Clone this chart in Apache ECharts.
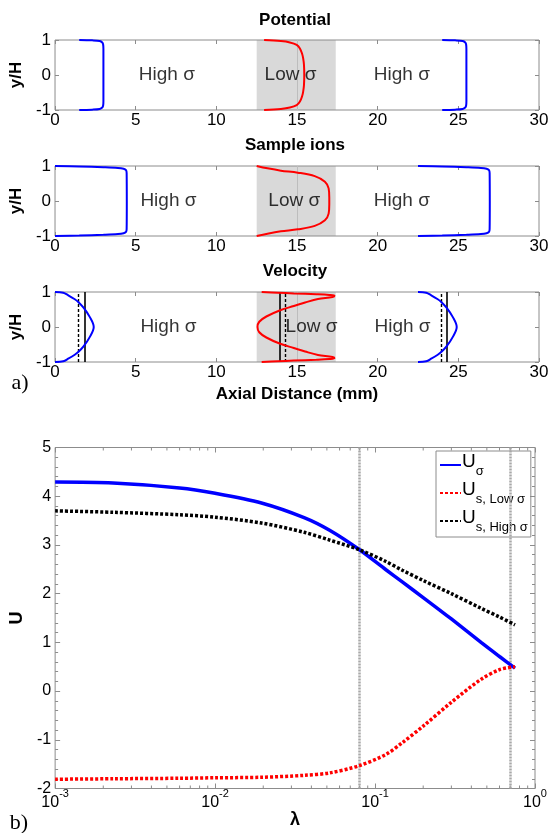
<!DOCTYPE html>
<html>
<head>
<meta charset="utf-8">
<script src="https://cdn.jsdelivr.net/npm/echarts@6/dist/echarts.min.js"></script>
<style>
  html, body { margin: 0; padding: 0; background: #fff; }
  #main { width: 553px; height: 833px; }
</style>
</head>
<body>
<div id="main"></div>
<script>
// ---------------- Panel a): profiles across the channel ----------------
// axial distance (mm) axis and transverse coordinate y/H
const axialRange = [0, 30];
const axialStep = 5;
const yhRange = [-1, 1];
const yhStep = 1;

// low-conductivity plug (shaded)
const lowSigmaBand = [12.5, 17.4];

// Potential profiles [x (mm), y/H]
const potentialHighL = [[1.5,1],[2.3,0.99],[2.77,0.97],[2.93,0.93],[2.98,0.88],[3.0,0.75],[3.0,0],[3.0,-0.75],[2.98,-0.88],[2.93,-0.93],[2.77,-0.97],[2.3,-0.99],[1.5,-1]];
const potentialLow   = [[12.96,1],[14.0,0.97],[14.56,0.93],[14.98,0.86],[15.18,0.76],[15.32,0.6],[15.38,0.48],[15.43,0.3],[15.45,0],[15.43,-0.3],[15.38,-0.48],[15.32,-0.6],[15.18,-0.76],[14.98,-0.86],[14.56,-0.93],[14.0,-0.97],[12.96,-1]];
const potentialHighR = [[24.0,1],[24.8,0.99],[25.27,0.97],[25.43,0.93],[25.48,0.88],[25.5,0.75],[25.5,0],[25.5,-0.75],[25.48,-0.88],[25.43,-0.93],[25.27,-0.97],[24.8,-0.99],[24.0,-1]];

// Sample-ion concentration profiles
const ionsHighL = [[0,1],[1.5,0.985],[3.0,0.965],[3.9,0.945],[4.25,0.92],[4.4,0.88],[4.44,0.8],[4.45,0],[4.44,-0.8],[4.4,-0.88],[4.25,-0.92],[3.9,-0.945],[3.0,-0.965],[1.5,-0.985],[0,-1]];
const ionsLow   = [[12.5,1],[13.17,0.933],[14.0,0.867],[15.05,0.81],[16.1,0.71],[16.73,0.55],[16.96,0.36],[17.0,0.1],[17.0,-0.1],[16.96,-0.36],[16.73,-0.55],[16.1,-0.71],[15.05,-0.81],[14.0,-0.867],[13.17,-0.933],[12.5,-1]];
const ionsHighR = [[22.5,1],[24.0,0.985],[25.5,0.965],[26.4,0.945],[26.75,0.92],[26.9,0.88],[26.94,0.8],[26.95,0],[26.94,-0.8],[26.9,-0.88],[26.75,-0.92],[26.4,-0.945],[25.5,-0.965],[24.0,-0.985],[22.5,-1]];

// Velocity profiles
const velocityHighL = [[0,1],[0.51,0.98],[0.82,0.906],[1.2,0.8],[1.44,0.717],[1.78,0.547],[2.15,0.29],[2.4,0],[2.15,-0.29],[1.78,-0.547],[1.44,-0.717],[1.2,-0.8],[0.82,-0.906],[0.51,-0.98],[0,-1]];
const velocityLow   = [[12.81,1],[13.8,0.98],[14.8,0.96],[16.2,0.935],[17.0,0.915],[17.32,0.895],[17.2,0.86],[16.3,0.8],[15.5,0.7],[14.8,0.6],[13.96,0.48],[13.1,0.3],[12.66,0.15],[12.55,0],[12.66,-0.15],[13.1,-0.3],[13.96,-0.48],[14.8,-0.6],[15.5,-0.7],[16.3,-0.8],[17.2,-0.86],[17.32,-0.895],[17.0,-0.915],[16.2,-0.935],[14.8,-0.96],[13.8,-0.98],[12.81,-1]];
const velocityHighR = [[22.5,1],[23.01,0.98],[23.32,0.906],[23.7,0.8],[23.94,0.717],[24.28,0.547],[24.65,0.29],[24.9,0],[24.65,-0.29],[24.28,-0.547],[23.94,-0.717],[23.7,-0.8],[23.32,-0.906],[23.01,-0.98],[22.5,-1]];

// mean-velocity markers (mm): solid and dashed
const velocityMeanSolid  = [1.84, 13.96, 24.29];
const velocityMeanDashed = [1.45, 14.29, 23.92];

// ---------------- Panel b): U versus lambda ----------------
const lambda = [0.001, 0.0023, 0.006, 0.01, 0.0195, 0.036, 0.052, 0.08, 0.117, 0.148, 0.2, 0.3, 0.46, 0.6, 0.75];
const uSigma = [4.29, 4.27, 4.17, 4.06, 3.86, 3.56, 3.30, 2.90, 2.49, 2.24, 1.92, 1.48, 1.00, 0.71, 0.47];
const usLow  = [-1.81, -1.80, -1.79, -1.78, -1.77, -1.73, -1.68, -1.53, -1.30, -1.06, -0.72, -0.23, 0.24, 0.44, 0.50];
const usHigh = [3.70, 3.67, 3.62, 3.57, 3.45, 3.26, 3.10, 2.90, 2.66, 2.48, 2.27, 2.00, 1.70, 1.52, 1.36];
const lambdaMarks = [0.08, 0.7];
const lambdaRange = [0.001, 1];
const uRange = [-2, 5];
const uStep = 1;
const lambdaMinorTicks = [0.002,0.003,0.004,0.005,0.006,0.007,0.008,0.009,
                          0.02,0.03,0.04,0.05,0.06,0.07,0.08,0.09,
                          0.2,0.3,0.4,0.5,0.6,0.7,0.8,0.9];

// ---------------- styling ----------------
const FONT = '"Liberation Sans", Arial, Helvetica, sans-serif';
const SERIF = '"Liberation Serif", "Times New Roman", serif';
const FRAME = '#8c8c8c';
const BLUE = '#0000ff';
const RED = '#ff0000';

const panelTops = [40, 166, 292];
const panelLeft = 51, panelWidth = 488, panelHeight = 70;

const grids = panelTops.map(t => ({
  left: panelLeft, top: t, width: panelWidth, height: panelHeight,
  show: true, borderColor: FRAME, borderWidth: 1, backgroundColor: 'transparent', z: 4
}));
grids.push({ left: 47, top: 447.5, width: 488, height: 341,
  show: true, borderColor: FRAME, borderWidth: 1, backgroundColor: 'transparent', z: 4 });

const hiddenLine = { show: false, onZero: false };
const xAxes = [], yAxes = [];
panelTops.forEach((t, i) => {
  const tick = { show: true, inside: true, length: 4, lineStyle: { color: FRAME } };
  xAxes.push({
    gridIndex: i, type: 'value', min: axialRange[0], max: axialRange[1], interval: axialStep,
    position: 'bottom', z: 4,
    axisLine: hiddenLine, axisTick: tick, splitLine: { show: false },
    axisLabel: { fontSize: 17, color: '#000', fontFamily: FONT, margin: 2 },
    name: i === 2 ? 'Axial Distance (mm)' : '',
    nameLocation: 'middle', nameGap: 24,
    nameTextStyle: { fontSize: 17, fontWeight: 'bold', color: '#000', fontFamily: FONT }
  });
  xAxes.push({
    gridIndex: i, type: 'value', min: axialRange[0], max: axialRange[1], interval: axialStep,
    position: 'top', z: 4,
    axisLine: hiddenLine, axisTick: tick, splitLine: { show: false }, axisLabel: { show: false }
  });
  yAxes.push({
    gridIndex: i, type: 'value', min: yhRange[0], max: yhRange[1], interval: yhStep,
    position: 'left', z: 4,
    axisLine: hiddenLine, axisTick: tick, splitLine: { show: false },
    axisLabel: { fontSize: 17, color: '#000', fontFamily: FONT, margin: 4 },
    name: 'y/H', nameLocation: 'middle', nameGap: 20, nameRotate: 90,
    nameTextStyle: { fontSize: 17, fontWeight: 'bold', color: '#000', fontFamily: FONT }
  });
  yAxes.push({
    gridIndex: i, type: 'value', min: yhRange[0], max: yhRange[1], interval: yhStep,
    position: 'right', z: 4,
    axisLine: hiddenLine, axisTick: tick, splitLine: { show: false }, axisLabel: { show: false }
  });
});

// panel b) axes (indices 6 and 7)
const bTick = { show: true, inside: true, length: 5, lineStyle: { color: FRAME } };
xAxes.push({
  gridIndex: 3, type: 'log', logBase: 10, min: lambdaRange[0], max: lambdaRange[1],
  position: 'bottom', z: 4,
  axisLine: hiddenLine, axisTick: bTick, splitLine: { show: false }, minorTick: { show: false },
  axisLabel: {
    margin: 0, color: '#000',
    formatter: v => '{b|10}{s|' + Math.round(Math.log10(v)) + '}',
    rich: {
      b: { fontSize: 16, fontFamily: FONT, color: '#000', lineHeight: 22, verticalAlign: 'bottom' },
      s: { fontSize: 11, fontFamily: FONT, color: '#000', verticalAlign: 'top' }
    }
  },
  name: 'λ', nameLocation: 'middle', nameGap: 22,
  nameTextStyle: { fontSize: 18, fontWeight: 'bold', color: '#000', fontFamily: FONT }
});
xAxes.push({
  gridIndex: 3, type: 'log', logBase: 10, min: lambdaRange[0], max: lambdaRange[1],
  position: 'top', z: 4,
  axisLine: hiddenLine, axisTick: bTick, splitLine: { show: false }, axisLabel: { show: false }
});
const bMinor = { show: true, splitNumber: 5, length: 3, lineStyle: { color: FRAME } };
yAxes.push({
  gridIndex: 3, type: 'value', min: uRange[0], max: uRange[1], interval: uStep,
  position: 'left', z: 4,
  axisLine: hiddenLine, axisTick: bTick, minorTick: bMinor, splitLine: { show: false },
  axisLabel: { fontSize: 16, color: '#000', fontFamily: FONT, margin: 4 },
  name: 'U', nameLocation: 'middle', nameGap: 24, nameRotate: 90,
  nameTextStyle: { fontSize: 18, fontWeight: 'bold', color: '#000', fontFamily: FONT }
});
yAxes.push({
  gridIndex: 3, type: 'value', min: uRange[0], max: uRange[1], interval: uStep,
  position: 'right', z: 4,
  axisLine: hiddenLine, axisTick: bTick, minorTick: bMinor, splitLine: { show: false },
  axisLabel: { show: false }
});

// ---------------- series ----------------
const series = [];

function profile(panel, data, color) {
  series.push({
    type: 'line', xAxisIndex: 2 * panel, yAxisIndex: 2 * panel, data: data,
    symbol: 'none', smooth: 0.35, silent: true, z: 5,
    lineStyle: { color: color, width: 2 }
  });
}

function band(panel) {
  series.push({
    type: 'line', xAxisIndex: 2 * panel, yAxisIndex: 2 * panel, data: [],
    symbol: 'none', silent: true, z: 1,
    markArea: { silent: true, itemStyle: { color: '#d9d9d9' },
      data: [[{ xAxis: lowSigmaBand[0] }, { xAxis: lowSigmaBand[1] }]] },
    markLine: { silent: true, symbol: 'none', label: { show: false },
      lineStyle: { color: '#bdbdbd', width: 1, type: 'solid' },
      data: [{ xAxis: 15 }] }
  });
}

function regionLabels(panel, items) {
  series.push({
    type: 'scatter', xAxisIndex: 2 * panel, yAxisIndex: 2 * panel,
    symbolSize: 0, silent: true, z: 6,
    itemStyle: { color: '#000' },
    data: items.map(d => ({ name: d[0], value: [d[1], 0] })),
    label: { show: true, position: 'inside', formatter: '{b}',
      fontSize: 19, color: '#000', textBorderWidth: 0, fontFamily: FONT }
  });
}

[0, 1, 2].forEach(band);

profile(0, potentialHighL, BLUE);
profile(0, potentialLow, RED);
profile(0, potentialHighR, BLUE);
profile(1, ionsHighL, BLUE);
profile(1, ionsLow, RED);
profile(1, ionsHighR, BLUE);
profile(2, velocityHighL, BLUE);
profile(2, velocityLow, RED);
profile(2, velocityHighR, BLUE);

regionLabels(0, [['High σ', 6.93], ['Low σ', 14.6], ['High σ', 21.5]]);
regionLabels(1, [['High σ', 7.03], ['Low σ', 14.83], ['High σ', 21.5]]);
regionLabels(2, [['High σ', 7.03], ['Low σ', 15.9], ['High σ', 21.54]]);

// mean-velocity markers
series.push({
  type: 'line', xAxisIndex: 4, yAxisIndex: 4, data: [], symbol: 'none', silent: true, z: 7,
  markLine: {
    silent: true, symbol: 'none', label: { show: false },
    data: velocityMeanSolid.map(v => ({ xAxis: v, lineStyle: { color: '#000', width: 1.6, type: 'solid' } }))
      .concat(velocityMeanDashed.map(v => ({ xAxis: v, lineStyle: { color: '#000', width: 1.4, type: [3, 2] } })))
  }
});

// panel b) reference lines
series.push({
  type: 'line', xAxisIndex: 6, yAxisIndex: 6, data: [], symbol: 'none', silent: true, z: 2,
  markLine: {
    silent: true, symbol: 'none', label: { show: false },
    lineStyle: { color: '#a8a8a8', width: 2.5, type: [2, 1] },
    data: lambdaMarks.map(v => ({ xAxis: v }))
  }
});

// minor ticks of the logarithmic axis (bottom and top edges)
series.push({
  type: 'custom', xAxisIndex: 6, yAxisIndex: 6, silent: true, clip: false, z: 4,
  data: lambdaMinorTicks.map(v => [v, uRange[0]]),
  encode: { x: 0, y: 1 },
  renderItem: function (params, api) {
    const v = api.value(0);
    const b = api.coord([v, uRange[0]]);
    const t = api.coord([v, uRange[1]]);
    return {
      type: 'group',
      children: [
        { type: 'line', shape: { x1: b[0], y1: b[1], x2: b[0], y2: b[1] - 3 }, style: { stroke: FRAME, lineWidth: 1 } },
        { type: 'line', shape: { x1: t[0], y1: t[1], x2: t[0], y2: t[1] + 3 }, style: { stroke: FRAME, lineWidth: 1 } }
      ]
    };
  }
});

const pairs = arr => lambda.map((l, i) => [l, arr[i]]);
series.push({
  name: 'Uσ', type: 'line', xAxisIndex: 6, yAxisIndex: 6, data: pairs(uSigma),
  symbol: 'none', smooth: 0.3, silent: true, z: 5,
  itemStyle: { color: BLUE },
  lineStyle: { color: BLUE, width: 3.5 }
});
series.push({
  name: 'Us, Low σ', type: 'line', xAxisIndex: 6, yAxisIndex: 6, data: pairs(usLow),
  symbol: 'none', smooth: 0.3, silent: true, z: 5,
  itemStyle: { color: RED },
  lineStyle: { color: RED, width: 3.5, type: [3, 2] }
});
series.push({
  name: 'Us, High σ', type: 'line', xAxisIndex: 6, yAxisIndex: 6, data: pairs(usHigh),
  symbol: 'none', smooth: 0.3, silent: true, z: 5,
  itemStyle: { color: '#000' },
  lineStyle: { color: '#000', width: 3.5, type: [3, 2] }
});

const legendText = {
  'Uσ': '{u|U}{s|σ}',
  'Us, Low σ': '{u|U}{s|s, Low σ}',
  'Us, High σ': '{u|U}{s|s, High σ}'
};

const option = {
  animation: false,
  backgroundColor: '#fff',
  grid: grids,
  xAxis: xAxes,
  yAxis: yAxes,
  legend: {
    data: ['Uσ', 'Us, Low σ', 'Us, High σ'],
    orient: 'vertical', left: 436, top: 451,
    itemWidth: 21, itemHeight: 10, itemGap: 2,
    padding: [1, 3, 3, 3],
    backgroundColor: '#fff', borderColor: FRAME, borderWidth: 1, borderRadius: 0,
    selectedMode: false,
    itemStyle: { opacity: 0 },
    formatter: name => legendText[name],
    textStyle: {
      color: '#000', padding: [0, 0, 0, -4],
      rich: {
        u: { fontSize: 19, fontFamily: FONT, color: '#000', lineHeight: 26, verticalAlign: 'top' },
        s: { fontSize: 13, fontFamily: FONT, color: '#000', verticalAlign: 'bottom' }
      }
    }
  },
  graphic: [
    { type: 'text', x: 295, y: 20, style: { text: 'Potential', font: 'bold 17px ' + FONT, fill: '#000', align: 'center', verticalAlign: 'middle' } },
    { type: 'text', x: 295, y: 145, style: { text: 'Sample ions', font: 'bold 17px ' + FONT, fill: '#000', align: 'center', verticalAlign: 'middle' } },
    { type: 'text', x: 295, y: 271, style: { text: 'Velocity', font: 'bold 17px ' + FONT, fill: '#000', align: 'center', verticalAlign: 'middle' } },
    { type: 'text', x: 20, y: 383, style: { text: 'a)', font: '22px ' + SERIF, fill: '#000', align: 'center', verticalAlign: 'middle' } },
    { type: 'text', x: 19, y: 823, style: { text: 'b)', font: '22px ' + SERIF, fill: '#000', align: 'center', verticalAlign: 'middle' } }
  ],
  series: series
};

const chart = echarts.init(document.getElementById('main'), null, { renderer: 'canvas' });
chart.setOption(option);
</script>
</body>
</html>
